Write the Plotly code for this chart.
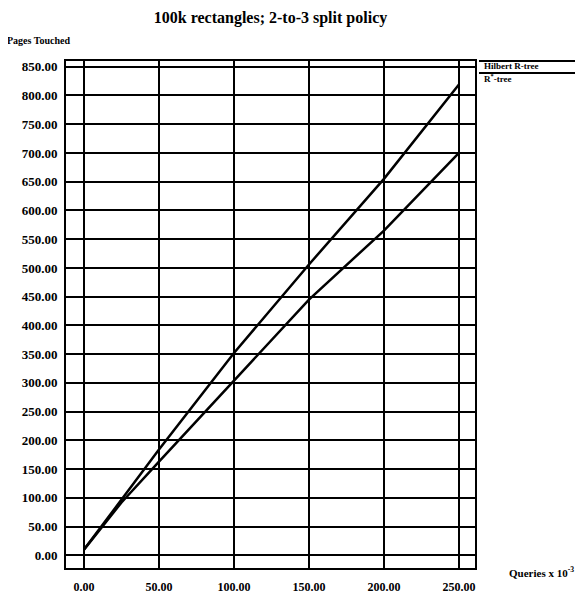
import plotly.graph_objects as go

queries = [0, 25, 50, 100, 150, 200, 250]
rstar_pages = [10, 97, 184, 352, 506, 655, 819]
hilbert_pages = [10, 92, 163, 304, 445, 565, 700]
series_names = ["Hilbert R-tree", "R*-tree"]
x_ticks = [0, 50, 100, 150, 200, 250]
y_ticks = list(range(0, 851, 50))

FONT = "Liberation Serif"

# The page body has an 8px margin; lay the figure out in window pixels and shift.
OFF = 8
W, H = 583 - OFF, 597 - OFF
PL, PR, PT, PB = 66, 475, 61, 568  # plot area in window pixels

fig = go.Figure()
fig.add_trace(go.Scatter(x=queries, y=hilbert_pages, mode="lines", name=series_names[0],
                         line=dict(color="black", width=2.5)))
fig.add_trace(go.Scatter(x=queries, y=rstar_pages, mode="lines", name=series_names[1],
                         line=dict(color="black", width=2.5)))

fig.update_layout(
    width=W, height=H,
    margin=dict(l=PL - OFF, r=583 - PR, t=PT - OFF, b=597 - PB),
    paper_bgcolor="white", plot_bgcolor="white",
    showlegend=False,
    font=dict(family=FONT, color="black"),
    title=dict(text="<b>100k rectangles; 2-to-3 split policy</b>", x=0.5, xref="paper",
               xanchor="center", y=1 - (17 - OFF) / H, yanchor="middle",
               font=dict(family=FONT, size=16, color="black")),
)

fig.update_xaxes(
    range=[-12, 260.7], tickvals=x_ticks,
    ticktext=["<b>%.2f</b>" % v for v in x_ticks],
    tickfont=dict(family=FONT, size=12, color="black"),
    showgrid=True, gridcolor="black", gridwidth=2,
    zeroline=False, showline=True, linecolor="black", linewidth=2, mirror=True,
    ticks="", ticklabelstandoff=7, automargin=False,
)
fig.update_yaxes(
    range=[-22, 860], tickvals=y_ticks,
    ticktext=["<b>%.2f</b>" % v for v in y_ticks],
    tickfont=dict(family=FONT, size=13, color="black"),
    showgrid=True, gridcolor="black", gridwidth=2,
    zeroline=False, showline=True, linecolor="black", linewidth=2, mirror=True,
    ticks="", ticklabelstandoff=4, automargin=False,
)

# window-pixel -> plot-area paper coords
def fx(xw):
    return (xw - PL) / (PR - PL)
def fy(yw):
    return (PB - yw) / (PB - PT)

# y-axis title
fig.add_annotation(text="<b>Pages Touched</b>", xref="paper", yref="paper",
                   x=fx(5), y=fy(40), showarrow=False,
                   xanchor="left", yanchor="middle",
                   font=dict(family=FONT, size=10, color="black"))
# x-axis title
fig.add_annotation(text="<b>Queries x 10<sup>-3</sup></b>", xref="paper", yref="paper",
                   x=fx(507), y=fy(572), showarrow=False, xanchor="left", yanchor="middle",
                   font=dict(family=FONT, size=11, color="black"))

# legend (custom)
leg_y = [61, 73]
for name, ly in zip(series_names, leg_y):
    fig.add_shape(type="line", xref="paper", yref="paper",
                  x0=fx(479), x1=fx(583), y0=fy(ly), y1=fy(ly),
                  line=dict(color="black", width=2))
    label = name.replace("R*", "R<sup>*</sup>")
    fig.add_annotation(text="<b>" + label + "</b>", xref="paper", yref="paper",
                       x=fx(482), y=fy(ly + 5), showarrow=False,
                       xanchor="left", yanchor="middle",
                       font=dict(family=FONT, size=9, color="black"))

fig.write_html("out.html")
